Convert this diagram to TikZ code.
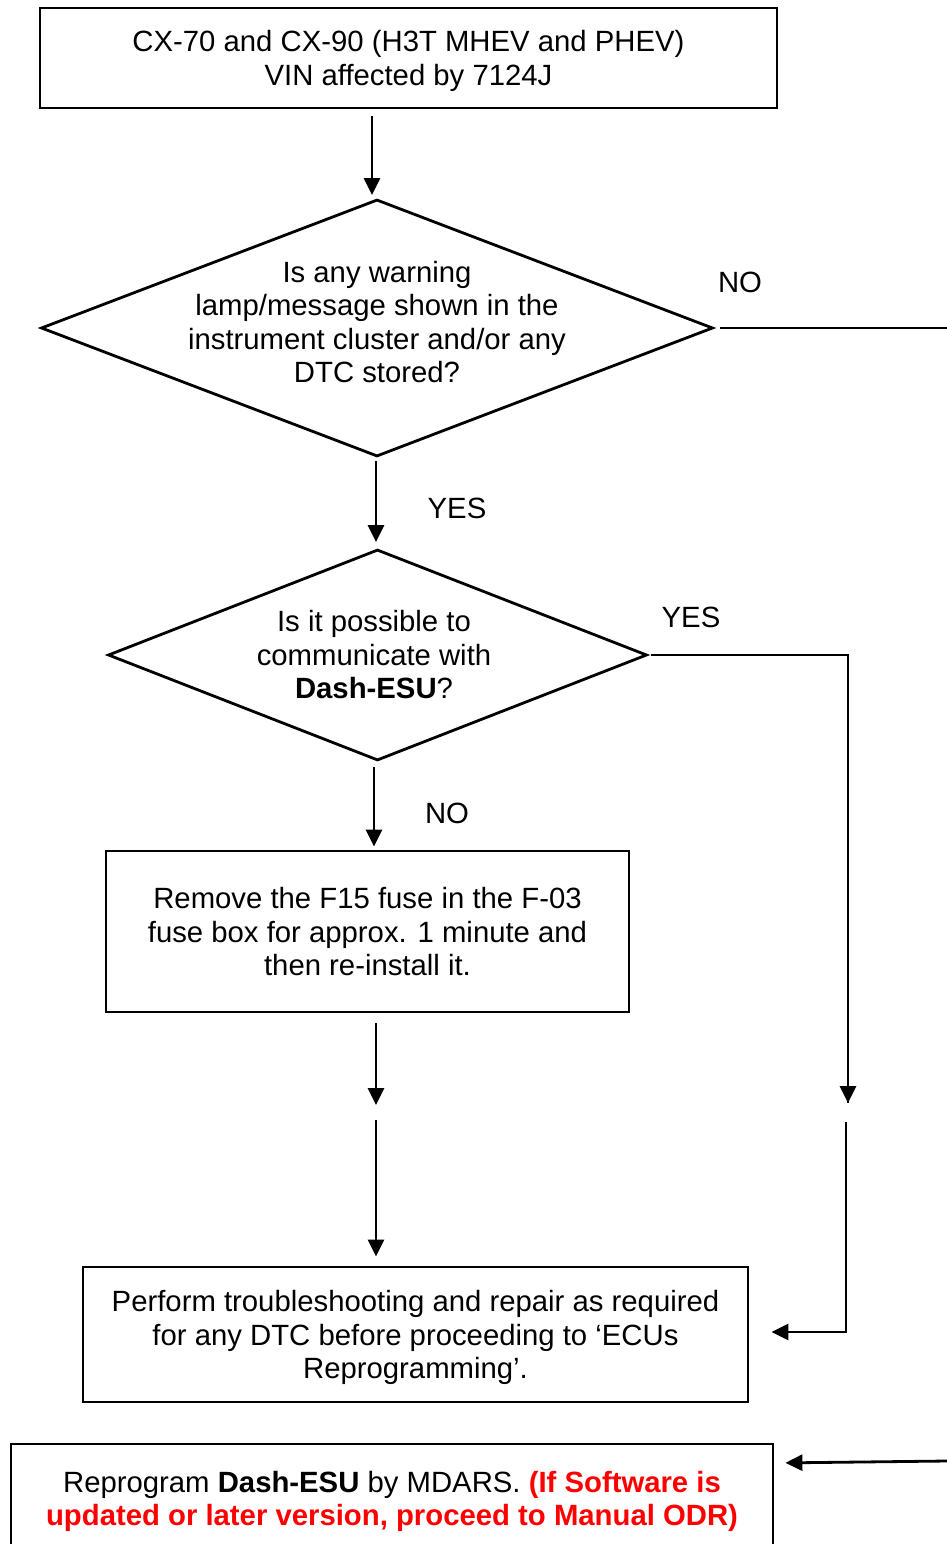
\documentclass[tikz,border=0pt]{standalone}
\usepackage{fontspec}
\setmainfont{Liberation Sans}
\usetikzlibrary{shapes.geometric,arrows.meta}

\begin{document}
\begin{tikzpicture}[x=1pt,y=-1pt,
	every node/.style={font=\fontsize{29.3}{33.5}\selectfont},
	box/.style={draw,line width=2.8pt,rectangle,inner sep=0pt,align=center,text depth=0pt},
	decision/.style={draw,line width=2.8pt,diamond,inner sep=0pt},
	txt/.style={align=center,inner sep=0pt},
	line/.style={line width=2.8pt},
	arrow/.style={line,-{Triangle[length=17pt,width=16pt]}}]

\def\WARNCOLOR{red}
	\useasboundingbox (0,0) rectangle (947,1544);

	% boxes and questions
	\node[box,minimum width=737pt,minimum height=100pt] (start) at (408.5,58)
		{CX-70 and CX-90 (H3T MHEV and PHEV)\\VIN affected by 7124J};
	\node[decision,minimum width=672pt,minimum height=257pt] (warning) at (377,328) {};
	\node[txt] (warningtxt) at (377,322)
		{Is any warning\\lamp/message shown in the\\instrument cluster and/or any\\DTC stored?};
	\node[decision,minimum width=539pt,minimum height=211pt] (comm) at (377.5,655) {};
	\node[txt] (commtxt) at (374,655)
		{Is it possible to\\communicate with\\\textbf{Dash-ESU}?};
	\node[box,minimum width=523pt,minimum height=161pt] (fuse) at (367.5,931.5)
		{Remove the F15 fuse in the F-03\\fuse box for approx. 1 minute and\\then re-install it.};
	\node[box,minimum width=665pt,minimum height=135pt] (repair) at (415.5,1334.5)
		{Perform troubleshooting and repair as required\\for any DTC before proceeding to ‘ECUs\\Reprogramming’.};
	\node[box,minimum width=762pt,minimum height=109pt] (reprog) at (392,1498.5)
		{Reprogram \textbf{Dash-ESU} by MDARS. \textcolor{\WARNCOLOR}{\textbf{(If Software is}}\\
		\textcolor{\WARNCOLOR}{\textbf{updated or later version, proceed to Manual ODR)}}};

	% labels
	\node (nolabelone) at (740,282) {NO};
	\node (yeslabelone) at (457,508) {YES};
	\node (yeslabeltwo) at (691,617) {YES};
	\node (nolabeltwo) at (447,813) {NO};

	% free ends
	\coordinate (noout) at (947,328);
	\coordinate (fusedown) at (376,1105);
	\coordinate (repairup) at (376,1120);
	\coordinate (yescorner) at (848,655);
	\coordinate (yesdown) at (848,1103);
	\coordinate (yesup) at (846,1122);
	\coordinate (yesturn) at (846,1332);
	\coordinate (reprogin) at (947,1461);

	% connectors
	\draw[arrow,shorten <=7pt,shorten >=3pt] ([xshift=-5pt]warning.north |- start.south) -- ([xshift=-5pt]warning.north);
	\draw[line,shorten <=6pt] (warning.east) -- (noout);
	\draw[arrow,shorten <=3pt,shorten >=6pt] ([xshift=-1pt]warning.south) -- ([xshift=-1pt]warning.south |- comm.north);
	\draw[line,shorten <=3pt] (comm.east) -- (yescorner) -- (yesdown);
	\draw[arrow] (yesdown) -- ++(0,0.1);
	\draw[arrow,shorten <=5pt,shorten >=3pt] ([xshift=-3.5pt]comm.south) -- ([xshift=-3.5pt]comm.south |- fuse.north);
	\draw[arrow,shorten <=10pt] (fusedown |- fuse.south) -- (fusedown);
	\draw[arrow,shorten >=9pt] (repairup) -- (repairup |- repair.north);
	\draw[arrow,shorten >=22pt] (yesup) -- (yesturn) -- (yesturn -| repair.east);
	\draw[arrow,shorten >=11pt] (reprogin) -- ([yshift=-2pt]reprogin -| reprog.east);

\end{tikzpicture}
\end{document}
